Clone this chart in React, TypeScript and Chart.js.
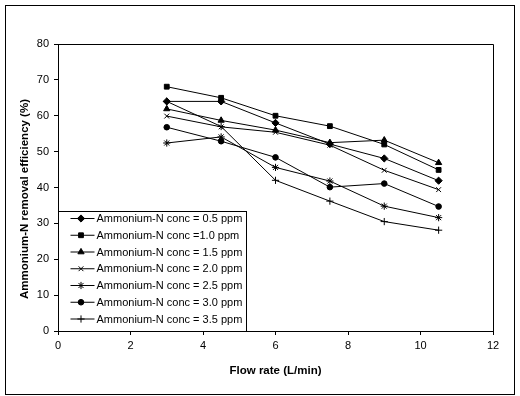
import React, { useEffect, useRef } from "react";
import { Chart, registerables } from "chart.js";
import { drawPoint } from "chart.js/helpers";

Chart.register(...registerables);

const flowRates = [3, 4.5, 6, 7.5, 9, 10.5];
const seriesLabels = [
  "Ammonium-N conc = 0.5 ppm",
  "Ammonium-N conc =1.0 ppm",
  "Ammonium-N conc = 1.5 ppm",
  "Ammonium-N conc = 2.0 ppm",
  "Ammonium-N conc = 2.5 ppm",
  "Ammonium-N conc = 3.0 ppm",
  "Ammonium-N conc = 3.5 ppm",
];
const conc05 = [64.0, 64.0, 58.0, 52.1, 48.1, 41.9];
const conc10 = [68.1, 65.0, 60.0, 57.1, 52.0, 44.9];
const conc15 = [61.9, 58.7, 56.0, 52.5, 53.2, 46.9];
const conc20 = [59.9, 56.9, 55.4, 51.8, 44.8, 39.4];
const conc25 = [52.4, 54.1, 45.6, 41.8, 34.8, 31.6];
const conc30 = [56.8, 52.9, 48.4, 40.1, 41.1, 34.7];
const conc35 = [64.0, 57.0, 42.0, 36.2, 30.5, 28.1];
const markerStyles = ["rectRot", "rect", "triangle", "crossRot", "star", "circle", "cross"];
const markerSizes = [3.6, 3.4, 3.6, 3.4, 3.6, 2.8, 3.6];
const xTicks = [0, 2, 4, 6, 8, 10, 12];
const yTicks = [0, 10, 20, 30, 40, 50, 60, 70, 80];
const xTitle = "Flow rate (L/min)";
const yTitle = "Ammonium-N removal efficiency (%)";

const allSeries = [conc05, conc10, conc15, conc20, conc25, conc30, conc35];
const FAMILY = "'Liberation Sans', Arial, sans-serif";

const framePlugin = {
  id: "frameAndLegend",
  beforeDraw(chart: any) {
    const ctx = chart.ctx;
    ctx.save();
    ctx.fillStyle = "#fff";
    ctx.fillRect(0, 0, chart.width, chart.height);
    ctx.strokeStyle = "#000";
    ctx.lineWidth = 1;
    ctx.strokeRect(5.5, 5.5, 509, 389);
    ctx.restore();
  },
  afterDraw(chart: any) {
    const ctx = chart.ctx;
    const a = chart.chartArea;
    ctx.save();
    ctx.strokeStyle = "#000";
    ctx.lineWidth = 1;
    ctx.beginPath();
    ctx.moveTo(Math.round(a.left) + 0.5, Math.round(a.top) + 0.5);
    ctx.lineTo(Math.round(a.right) + 0.5, Math.round(a.top) + 0.5);
    ctx.lineTo(Math.round(a.right) + 0.5, Math.round(a.bottom) + 0.5);
    ctx.stroke();

    // y-axis title
    ctx.save();
    ctx.translate(25, 199);
    ctx.rotate(-Math.PI / 2);
    ctx.font = `bold 11.5px ${FAMILY}`;
    ctx.fillStyle = "#000";
    ctx.textAlign = "center";
    ctx.textBaseline = "middle";
    ctx.fillText(yTitle, 0, 0);
    ctx.restore();

    // legend box inside plot area
    const boxL = Math.round(a.left) + 0.5;
    const boxR = boxL + 188;
    const boxB = Math.round(a.bottom) + 0.5;
    const boxT = boxB - 120;
    ctx.fillStyle = "#fff";
    ctx.fillRect(boxL, boxT, boxR - boxL, boxB - boxT);
    ctx.strokeRect(boxL, boxT, boxR - boxL, boxB - boxT);
    const ds = chart.data.datasets;
    const rowH = 16.75;
    ctx.font = `11px ${FAMILY}`;
    ctx.textBaseline = "middle";
    ctx.textAlign = "left";
    for (let i = 0; i < ds.length; i++) {
      const y = boxT + 7 + rowH * i;
      ctx.strokeStyle = "#000";
      ctx.fillStyle = "#000";
      ctx.lineWidth = 1;
      ctx.beginPath();
      ctx.moveTo(boxL + 12, y);
      ctx.lineTo(boxL + 36, y);
      ctx.stroke();
      drawPoint(ctx, { pointStyle: ds[i].pointStyle, radius: ds[i].pointRadius, rotation: 0, borderWidth: 1 } as any, boxL + 22.5, y);
      ctx.fillStyle = "#000";
      ctx.fillText(ds[i].label, boxL + 38, y + 0.5);
    }
    ctx.restore();
  },
};

export default function App() {
  const ref = useRef<HTMLCanvasElement>(null);
  useEffect(() => {
    document.body.style.margin = "0";
    const canvas = ref.current!;
    const datasets = allSeries.map((vals, i) => ({
      label: seriesLabels[i],
      data: flowRates.map((x, j) => ({ x, y: vals[j] })),
      borderColor: "#000",
      backgroundColor: "#000",
      borderWidth: 1,
      pointStyle: markerStyles[i],
      pointRadius: markerSizes[i],
      pointBorderColor: "#000",
      pointBackgroundColor: "#000",
      pointBorderWidth: 1,
      tension: 0,
      fill: false,
    }));
    const font = { family: FAMILY, size: 11 };
    const titleFont = { family: FAMILY, size: 11.5, weight: "bold" as const };
    const chart = new Chart(canvas, {
      type: "scatter",
      data: { datasets: datasets as any },
      plugins: [framePlugin],
      options: {
        animation: false,
        responsive: false,
        devicePixelRatio: 1,
        layout: { padding: { left: 0, top: 44, right: 27, bottom: 0 } },
        plugins: { legend: { display: false }, tooltip: { enabled: false } },
        elements: { line: { tension: 0 } },
        datasets: { scatter: { showLine: true } } as any,
        scales: {
          x: {
            type: "linear",
            min: 0,
            max: 12,
            afterBuildTicks: (s: any) => {
              s.ticks = xTicks.map((v) => ({ value: v }));
            },
            afterFit: (s: any) => {
              s.height = 65;
            },
            grid: { display: true, drawOnChartArea: false, drawTicks: true, tickLength: 4, color: "#000", lineWidth: 1 },
            border: { display: true, color: "#000", width: 1 },
            ticks: { color: "#000", font, padding: 4, maxRotation: 0 },
            title: { display: true, text: xTitle, color: "#000", font: titleFont, padding: { top: 0, bottom: 18 } },
          },
          y: {
            type: "linear",
            min: 0,
            max: 80,
            afterBuildTicks: (s: any) => {
              s.ticks = yTicks.map((v) => ({ value: v }));
            },
            afterFit: (s: any) => {
              s.width = 58;
            },
            grid: { display: true, drawOnChartArea: false, drawTicks: true, tickLength: 4, color: "#000", lineWidth: 1 },
            border: { display: true, color: "#000", width: 1 },
            ticks: { color: "#000", font, padding: 5 },
            title: { display: false },
          },
        },
      },
    });
    return () => chart.destroy();
  }, []);
  return <canvas ref={ref} width={520} height={396} style={{ display: "block" }} />;
}
